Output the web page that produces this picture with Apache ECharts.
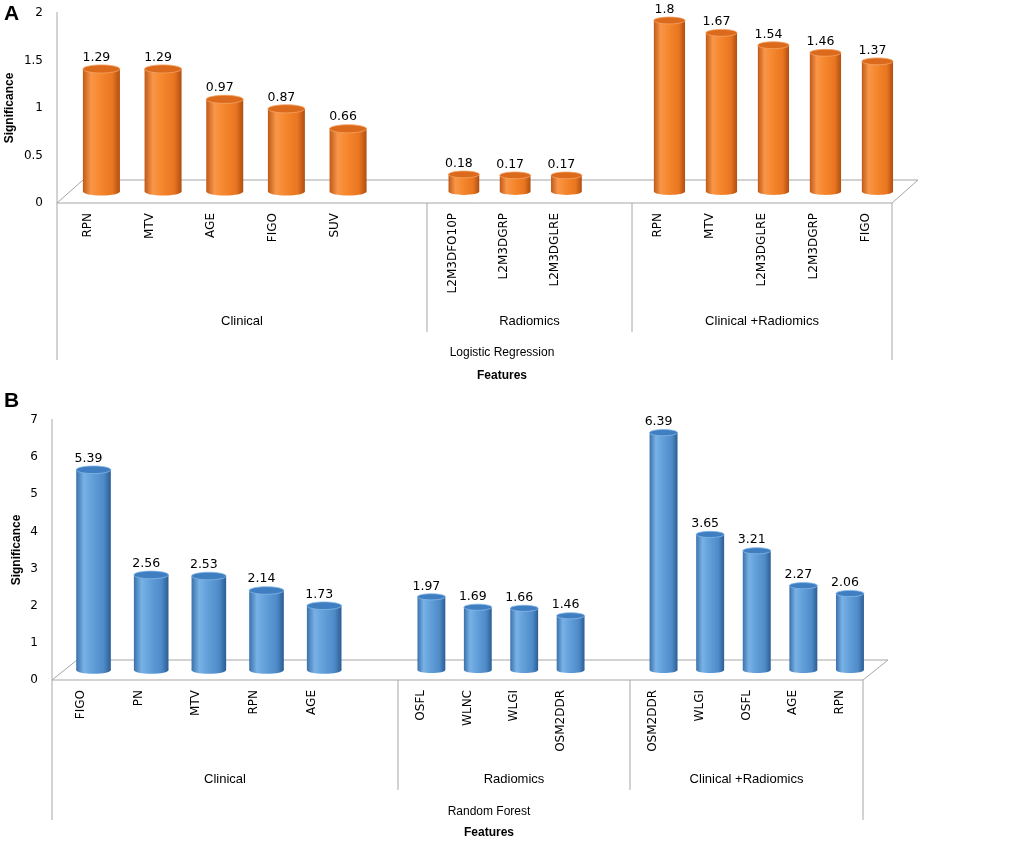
<!DOCTYPE html>
<html>
<head>
<meta charset="utf-8">
<title>Feature significance</title>
<script src="https://cdn.jsdelivr.net/npm/echarts@6.0.0/dist/echarts.min.js"></script>
<style>
  html, body { margin: 0; padding: 0; background: #fff; }
  #main { width: 1026px; height: 845px; }
</style>
</head>
<body>
<div id="main"></div>
<script>
// ---- data ----
const groupNames = ['Clinical', 'Radiomics', 'Clinical +Radiomics'];

// A: logistic regression
const lrClinicalNames = ['RPN', 'MTV', 'AGE', 'FIGO', 'SUV'];
const lrClinicalValues = [1.29, 1.29, 0.97, 0.87, 0.66];
const lrRadiomicsNames = ['L2M3DFO10P', 'L2M3DGRP', 'L2M3DGLRE'];
const lrRadiomicsValues = [0.18, 0.17, 0.17];
const lrCombinedNames = ['RPN', 'MTV', 'L2M3DGLRE', 'L2M3DGRP', 'FIGO'];
const lrCombinedValues = [1.8, 1.67, 1.54, 1.46, 1.37];
const lrAxis = { min: 0, max: 2, step: 0.5 };

// B: random forest
const rfClinicalNames = ['FIGO', 'PN', 'MTV', 'RPN', 'AGE'];
const rfClinicalValues = [5.39, 2.56, 2.53, 2.14, 1.73];
const rfRadiomicsNames = ['OSFL', 'WLNC', 'WLGI', 'OSM2DDR'];
const rfRadiomicsValues = [1.97, 1.69, 1.66, 1.46];
const rfCombinedNames = ['OSM2DDR', 'WLGI', 'OSFL', 'AGE', 'RPN'];
const rfCombinedValues = [6.39, 3.65, 3.21, 2.27, 2.06];
const rfAxis = { min: 0, max: 7, step: 1 };

// ---- look ----
const palettes = {
  orange: {
    body: [
      { offset: 0, color: '#c05a18' }, { offset: 0.22, color: '#f99649' },
      { offset: 0.45, color: '#f6882f' }, { offset: 0.8, color: '#e97620' },
      { offset: 1, color: '#b04e10' }
    ],
    top: '#dc6a1c', rim: '#f4a464'
  },
  blue: {
    body: [
      { offset: 0, color: '#3a71ab' }, { offset: 0.22, color: '#78b1e5' },
      { offset: 0.45, color: '#63a1db' }, { offset: 0.8, color: '#4e8ac7' },
      { offset: 1, color: '#2b5d93' }
    ],
    top: '#3f7ec1', rim: '#86b8e6'
  }
};
const FRAME = '#a6a6a6';
const NUM_FONT = '"DejaVu Sans", sans-serif';
const TXT_FONT = '"Liberation Sans", Arial, sans-serif';

const panels = [
  {
    letter: 'A', letterY: 4, model: 'Logistic Regression', palette: 'orange', axis: lrAxis,
    top: 13, bottom: 203, depth: [26, 23],
    lefts: [57, 427, 632], widths: [370, 205, 260], slots: [6, 4, 5],
    names: [lrClinicalNames, lrRadiomicsNames, lrCombinedNames],
    values: [lrClinicalValues, lrRadiomicsValues, lrCombinedValues],
    dividerBottom: 332, frameBottom: 360, groupGap: 112, yNameGap: 41,
    modelX: 502, modelY: 353, featuresY: 376
  },
  {
    letter: 'B', letterY: 391, model: 'Random Forest', palette: 'blue', axis: rfAxis,
    top: 420, bottom: 680, depth: [25, 20],
    lefts: [52, 398, 630], widths: [346, 232, 233], slots: [6, 5, 5],
    names: [rfClinicalNames, rfRadiomicsNames, rfCombinedNames],
    values: [rfClinicalValues, rfRadiomicsValues, rfCombinedValues],
    dividerBottom: 790, frameBottom: 820, groupGap: 93, yNameGap: 29,
    modelX: 489, modelY: 812, featuresY: 833
  }
];

function makeCylinder(pal, depth) {
  return function (params, api) {
    const idx = api.value(0);
    const val = api.value(1);
    const base = api.coord([idx, 0]);
    const head = api.coord([idx, val]);
    const slot = api.size([1, 0])[0];
    const w = slot * 0.6;
    const rx = w / 2, ry = w * 0.11;
    const cx = base[0] + slot * 0.22;
    const by = base[1] - depth[1] / 2;
    const ty = head[1] - depth[1] / 2;
    const body = new echarts.graphic.LinearGradient(0, 0, 1, 0, pal.body);
    return {
      type: 'group',
      children: [
        { type: 'ellipse', shape: { cx: cx, cy: by, rx: rx, ry: ry }, style: { fill: body } },
        { type: 'rect', shape: { x: cx - rx, y: ty, width: w, height: by - ty }, style: { fill: body } },
        { type: 'ellipse', shape: { cx: cx, cy: ty, rx: rx, ry: ry }, style: { fill: pal.top, stroke: pal.rim, lineWidth: 0.8 } },
        {
          type: 'text', x: cx - 5, y: ty - ry - 1,
          style: { text: String(val), fill: '#000', font: '12.5px ' + NUM_FONT, align: 'center', verticalAlign: 'bottom' }
        }
      ]
    };
  };
}

function line(x1, y1, x2, y2) {
  return { type: 'line', silent: true, z: 0, shape: { x1: x1, y1: y1, x2: x2, y2: y2 }, style: { stroke: FRAME, lineWidth: 1 } };
}

function label(text, x, y, font) {
  return {
    type: 'text', x: x, y: y, z: 5,
    style: { text: text, font: font, fill: '#000', align: 'center', verticalAlign: 'middle', textAlign: 'center', textVerticalAlign: 'middle' }
  };
}

const grid = [], xAxis = [], yAxis = [], series = [], graphic = [];

panels.forEach(function (p) {
  const L = p.lefts[0];
  const R = p.lefts[2] + p.widths[2];
  const dx = p.depth[0], dy = p.depth[1];

  for (let g = 0; g < 3; g++) {
    const gi = grid.length;
    grid.push({ left: p.lefts[g], top: p.top, width: p.widths[g], height: p.bottom - p.top, outerBoundsMode: 'none' });

    const cats = p.names[g].slice();
    while (cats.length < p.slots[g]) cats.push('');

    xAxis.push({
      type: 'category', gridIndex: gi, data: cats,
      axisLine: { show: false }, axisTick: { show: false },
      axisLabel: { rotate: 90, interval: 0, margin: 10, fontSize: 12, fontFamily: NUM_FONT, color: '#000' },
      name: groupNames[g], nameLocation: 'middle', nameGap: p.groupGap,
      nameTextStyle: { fontFamily: TXT_FONT, fontSize: 13, color: '#000' }
    });

    yAxis.push({
      type: 'value', gridIndex: gi, min: p.axis.min, max: p.axis.max, interval: p.axis.step,
      show: g === 0,
      axisLine: { show: false }, axisTick: { show: false }, splitLine: { show: false },
      axisLabel: { margin: 14, fontSize: 12, fontFamily: NUM_FONT, color: '#000' },
      name: g === 0 ? 'Significance' : '', nameLocation: 'middle', nameGap: p.yNameGap,
      nameTextStyle: { fontFamily: TXT_FONT, fontSize: 12, fontWeight: 'bold', color: '#000' }
    });

    series.push({
      type: 'custom', xAxisIndex: gi, yAxisIndex: gi, z: 3,
      data: p.values[g].map(function (v, i) { return [i, v]; }),
      encode: { x: 0, y: 1 },
      renderItem: makeCylinder(palettes[p.palette], p.depth)
    });
  }

  // floor and frame
  graphic.push(line(L, p.top - 1, L, p.frameBottom));
  graphic.push(line(L, p.bottom, R, p.bottom));
  graphic.push(line(L, p.bottom, L + dx, p.bottom - dy));
  graphic.push(line(L + dx, p.bottom - dy, R + dx, p.bottom - dy));
  graphic.push(line(R, p.bottom, R + dx, p.bottom - dy));
  graphic.push(line(R, p.bottom, R, p.frameBottom));
  graphic.push(line(p.lefts[1], p.bottom, p.lefts[1], p.dividerBottom));
  graphic.push(line(p.lefts[2], p.bottom, p.lefts[2], p.dividerBottom));

  graphic.push(label(p.model, p.modelX, p.modelY, '12px ' + TXT_FONT));
  graphic.push(label('Features', p.modelX, p.featuresY, 'bold 12px ' + TXT_FONT));
  graphic.push({
    type: 'text', x: 4, y: p.letterY, z: 5,
    style: { text: p.letter, font: 'bold 21px ' + TXT_FONT, fill: '#000' }
  });
});

let chart = echarts.init(document.getElementById('main'), null, { renderer: 'canvas' });
let option = {
  animation: false,
  backgroundColor: '#fff',
  grid: grid,
  xAxis: xAxis,
  yAxis: yAxis,
  series: series,
  graphic: graphic
};
chart.setOption(option);
</script>
</body>
</html>
